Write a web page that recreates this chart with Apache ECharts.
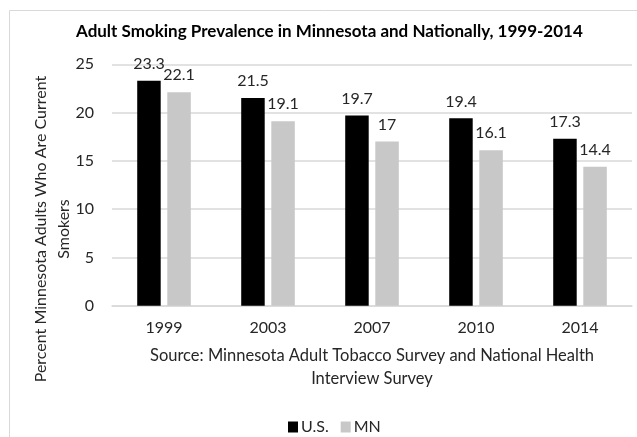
<!DOCTYPE html>
<html>
<head>
<meta charset="utf-8">
<script src="https://cdn.jsdelivr.net/npm/echarts@6/dist/echarts.min.js"></script>
<style>
html,body{margin:0;padding:0;background:#fff;}
#chart{width:637px;height:437px;}
</style>
</head>
<body>
<div id="chart"></div>
<script>
var categories = ['1999', '2003', '2007', '2010', '2014'];
var usValues = [23.3, 21.5, 19.7, 19.4, 17.3];
var mnValues = [22.1, 19.1, 17, 16.1, 14.4];
var seriesNames = ['U.S.', 'MN'];
var titleText = 'Adult Smoking Prevalence in Minnesota and Nationally, 1999-2014';
var xAxisTitle = 'Source: Minnesota Adult Tobacco Survey and National Health\nInterview Survey';
var yAxisTitle = 'Percent Minnesota Adults Who Are Current\nSmokers';

var FONT = 'Lato';
var chart = echarts.init(document.getElementById('chart'), null, {renderer: 'canvas'});
var labelStyle = {
  show: true, position: 'top', distance: 9,
  fontFamily: FONT, fontSize: 16, color: '#262626'
};
chart.setOption({
  animation: false,
  backgroundColor: '#fff',
  title: {
    text: titleText,
    left: 76,
    top: 23,
    padding: 0,
    textStyle: {fontFamily: FONT, fontWeight: 'bold', fontSize: 17, color: '#000'}
  },
  legend: {
    data: seriesNames,
    left: 283,
    top: 414,
    itemWidth: 10,
    itemHeight: 11,
    itemGap: 12,
    icon: 'rect',
    textStyle: {fontFamily: FONT, fontSize: 16, color: '#262626', padding: [0, 0, 0, -2]}
  },
  grid: {left: 112, right: 5, top: 64.3, bottom: 131.3, containLabel: false},
  xAxis: {
    type: 'category',
    data: categories,
    name: xAxisTitle,
    nameLocation: 'middle',
    nameGap: 38,
    nameTextStyle: {fontFamily: FONT, fontSize: 16.5, color: '#262626', lineHeight: 23},
    axisLine: {lineStyle: {color: '#d9d9d9', width: 1.5}},
    axisTick: {show: false},
    axisLabel: {fontFamily: FONT, fontSize: 16, color: '#262626', margin: 14}
  },
  yAxis: {
    type: 'value',
    min: 0, max: 25, interval: 5,
    axisLine: {show: false},
    axisTick: {show: false},
    splitLine: {lineStyle: {color: '#d9d9d9', width: 1.5}},
    axisLabel: {fontFamily: FONT, fontSize: 16, color: '#262626', margin: 18}
  },
  series: [
    {
      name: seriesNames[0], type: 'bar', data: usValues,
      barWidth: 23.5, barGap: '28%',
      itemStyle: {color: '#000000'},
      label: labelStyle
    },
    {
      name: seriesNames[1], type: 'bar', data: mnValues,
      barWidth: 23.5,
      itemStyle: {color: '#c8c8c8'},
      label: labelStyle
    }
  ],
  graphic: [
    {
      type: 'rect', silent: true, z: -1,
      shape: {x: 9.5, y: 10.5, width: 700, height: 500},
      style: {fill: 'none', stroke: '#d9d9d9', lineWidth: 1}
    },
    {
      type: 'text', x: 52, y: 229, rotation: Math.PI / 2,
      style: {
        text: yAxisTitle, fontFamily: FONT, fontSize: 16, fill: '#262626',
        align: 'center', verticalAlign: 'middle', lineHeight: 23
      }
    }
  ]
});
</script>
</body>
</html>
